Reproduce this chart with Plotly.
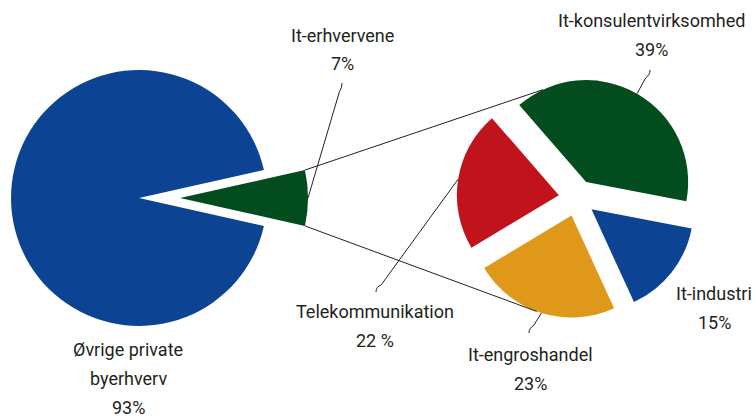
import math
import plotly.graph_objects as go

W, H = 755, 417

# ---- data ----
main_labels = ["It-erhvervene", "Øvrige private byerhverv"]
main_values = [7, 93]
main_pct_text = ["7%", "93%"]

sub_labels = ["It-konsulentvirksomhed", "It-industri", "It-engroshandel", "Telekommunikation"]
sub_values = [39, 15, 23, 22]
sub_pct_text = ["39%", "15%", "23%", "22 %"]

# ---- style ----
BLUE = "#0c4493"
GREEN = "#034c1d"
RED = "#c1131c"
ORANGE = "#e0981a"
TXT = "#231f20"
FONT = "Roboto, Liberation Sans Narrow, sans-serif"
FS = 18

main_colors = [GREEN, BLUE]
sub_colors = [GREEN, BLUE, ORANGE, RED]

# ---- geometry (pixels, y down) ----
C1 = (139, 198)      # main pie centre
R1 = 128
EXPLODE1 = 41        # pixel offset of the exploded wedge
C2 = (577, 198)      # secondary pie centre
R2 = 102
PULL2 = 0.18
ROT2 = -41
CONNECT_TOP_ANGLE = 115
CONNECT_BOTTOM_ANGLE = -110


def px(x, y):
    return x / W, 1 - y / H


def dom(cx, cy, half):
    return dict(x=[(cx - half) / W, (cx + half) / W],
                y=[1 - (cy + half) / H, 1 - (cy - half) / H])


tot1 = sum(main_values)
half_angle1 = 180 * main_values[0] / tot1
ROT1 = 90 - half_angle1

fig = go.Figure()
# main pie, big part (wedge slot left empty)
fig.add_trace(go.Pie(
    labels=main_labels, values=main_values, sort=False, direction="clockwise",
    rotation=ROT1, textinfo="none", hoverinfo="skip",
    marker=dict(colors=["rgba(0,0,0,0)", BLUE], line=dict(width=0)),
    domain=dom(C1[0], C1[1], R1), showlegend=False))
# main pie, exploded wedge
apex = (C1[0] + EXPLODE1, C1[1])
fig.add_trace(go.Pie(
    labels=main_labels, values=main_values, sort=False, direction="clockwise",
    rotation=ROT1, textinfo="none", hoverinfo="skip",
    marker=dict(colors=[GREEN, "rgba(0,0,0,0)"], line=dict(width=0)),
    domain=dom(apex[0], apex[1], R1), showlegend=False))
# secondary pie
fig.add_trace(go.Pie(
    labels=sub_labels, values=sub_values, sort=False, direction="clockwise",
    rotation=ROT2, textinfo="none", hoverinfo="skip",
    pull=[PULL2] * len(sub_values),
    marker=dict(colors=sub_colors, line=dict(width=0)),
    domain=dom(C2[0], C2[1], R2 * (1 + PULL2)), showlegend=False))

# secondary slice geometry
tot2 = sum(sub_values)
start = 90 - ROT2
tips, mids = [], []
for v in sub_values:
    span = 360 * v / tot2
    mid = start - span / 2
    mids.append(mid)
    tips.append((C2[0] + PULL2 * R2 * math.cos(math.radians(mid)),
                 C2[1] - PULL2 * R2 * math.sin(math.radians(mid))))
    start -= span


def on_arc(centre, r, ang):
    return (centre[0] + r * math.cos(math.radians(ang)),
            centre[1] - r * math.sin(math.radians(ang)))


shapes = []


def line(p, q):
    a, b = px(*p)
    c, d = px(*q)
    shapes.append(dict(type="line", xref="paper", yref="paper", x0=a, y0=b, x1=c, y1=d,
                       line=dict(color=TXT, width=1)))


# connectors main wedge -> secondary pie
top_src = on_arc(apex, R1, half_angle1)
bot_src = on_arc(apex, R1, -half_angle1)
top_dst = on_arc(tips[0], R2, CONNECT_TOP_ANGLE)
bot_dst = on_arc(tips[2], R2, CONNECT_BOTTOM_ANGLE)
line(top_src, top_dst)
line(bot_src, bot_dst)


def leader(start_pt, end_pt):
    sx, sy = start_pt
    ex, ey = end_pt
    dx, dy = sx - ex, sy - ey
    L = math.hypot(dx, dy)
    bx, by = ex + dx / L * 9, ey + dy / L * 9
    cx, cy = ex, ey + (5 if sy > ey else -5)
    pts = [px(sx, sy), px(bx, by), px(cx, cy), px(ex, ey)]
    path = "M {:.5f},{:.5f} L {:.5f},{:.5f} Q {:.5f},{:.5f} {:.5f},{:.5f}".format(
        *[c for p in pts for c in p])
    shapes.append(dict(type="path", xref="paper", yref="paper", path=path,
                       line=dict(color=TXT, width=1)))


leader(on_arc(apex, R1, 0), (342, 83))
leader(on_arc(tips[0], R2, mids[0]), (650, 70))
leader(on_arc(tips[2], R2, mids[2]), (529, 333))
leader(on_arc(tips[3], R2, mids[3]), (376, 292))

# labels: list of lines, x centre, cap-top y of first line
LINE_STEP = 29
label_pos = [
    ([main_labels[0], main_pct_text[0]], 342, 28),
    (["Øvrige private", "byerhverv", main_pct_text[1]], 128, 342),
    ([sub_labels[0], sub_pct_text[0]], 651, 13),
    ([sub_labels[1], sub_pct_text[1]], 714, 286),
    ([sub_labels[2], sub_pct_text[2]], 530, 347),
    ([sub_labels[3], sub_pct_text[3]], 375, 304),
]
annotations = []
for lines, x, y in label_pos:
    for i, t in enumerate(lines):
        ax, ay = px(x, y + 7 + i * LINE_STEP)
        annotations.append(dict(text=t, x=ax, y=ay, xref="paper", yref="paper",
                                xanchor="center", yanchor="middle", showarrow=False,
                                font=dict(family=FONT, size=FS, color=TXT)))

fig.update_layout(width=W, height=H, margin=dict(l=0, r=0, t=0, b=0),
                  paper_bgcolor="white", plot_bgcolor="white",
                  shapes=shapes, annotations=annotations, showlegend=False)

fig.write_html("out.html", config={"displayModeBar": False},
               post_script="document.body.style.margin='0';")
